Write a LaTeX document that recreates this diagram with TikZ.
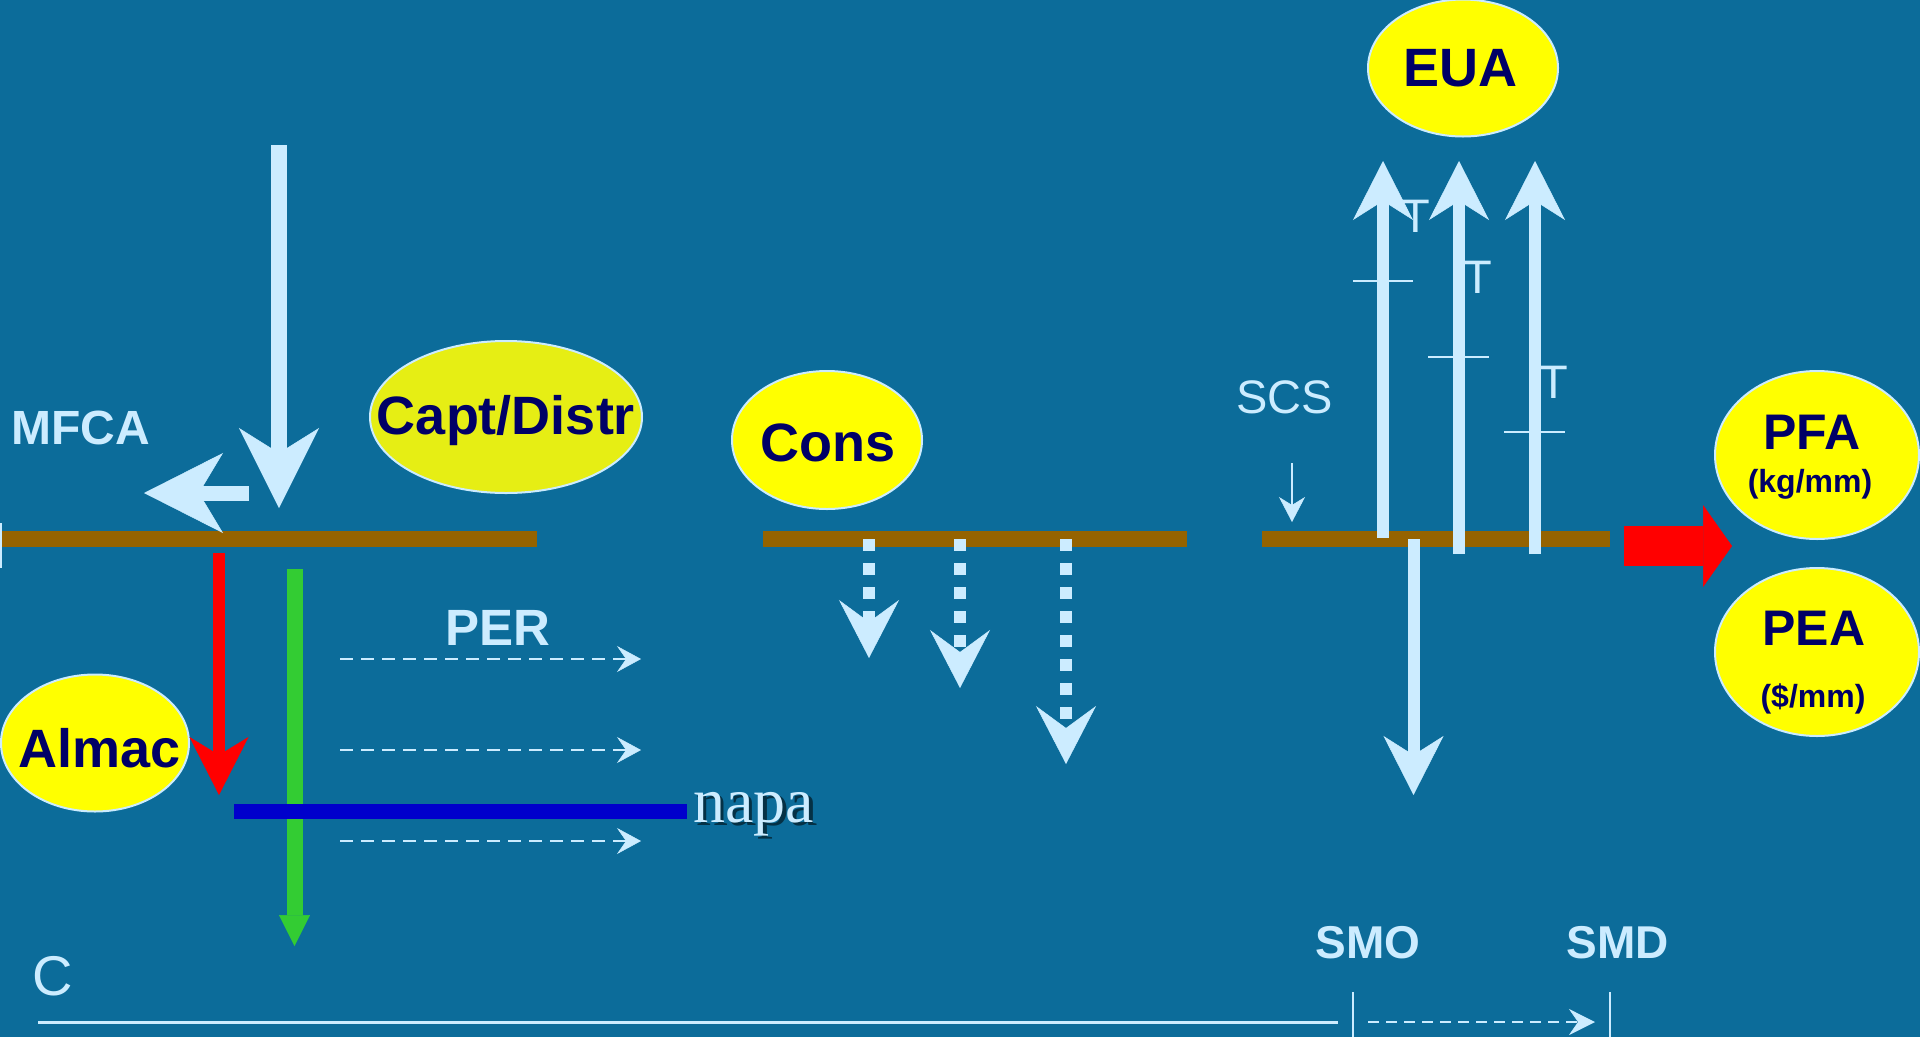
\documentclass[tikz,border=0pt]{standalone}
\usepackage{fontspec}
\setmainfont{Liberation Sans}
\newfontfamily\napafont{Liberation Serif}
\usetikzlibrary{arrows.meta,shapes.geometric}

\definecolor{bgblue}{RGB}{12,108,154}
\definecolor{pale}{RGB}{204,236,255}
\definecolor{soil}{RGB}{149,99,0}
\definecolor{navy}{RGB}{0,0,102}
\definecolor{lemon}{RGB}{255,255,0}
\definecolor{lime}{RGB}{230,238,20}
\definecolor{flowgreen}{RGB}{51,204,51}
\definecolor{aquifer}{RGB}{0,0,204}
\definecolor{hotred}{RGB}{255,0,0}
\colorlet{shade}{black!55!bgblue}

\newcommand\setfs[1]{\fontsize{#1}{#1}\selectfont}
% text with a dark drop shadow, set in one box
\newcommand\shadowed[1]{\rlap{\kern3.5pt\raisebox{-3.5pt}{\color{shade}#1}}#1}

\tikzset{
  bubble/.style={ellipse, draw=pale, line width=2pt, fill=lemon, inner sep=0pt},
  bubbletext/.style={text=navy, font=\bfseries\setfs{54}, inner sep=0pt, anchor=base},
  paletext/.style={text=pale, inner sep=0pt},
  soilbar/.style={draw=soil, line width=16pt},
  paleflow/.style={draw=pale, line width=12pt,
    -{Stealth[length=59pt, width=60pt, inset=19pt, line width=0.5pt]}},
  seepflow/.style={draw=pale, line width=12pt, dash pattern=on 12pt off 12pt,
    -{Stealth[length=58pt, width=60pt, inset=22pt, line width=0.5pt]}},
  thinflow/.style={draw=pale, line width=2.5pt, dash pattern=on 13pt off 8pt,
    -{Stealth[length=24pt, width=26pt, inset=9pt, line width=0.5pt]}},
  tick/.style={draw=pale, line width=2pt},
}

\begin{document}
\begin{tikzpicture}[x=1pt,y=-1pt]
\useasboundingbox (0,0) rectangle (1920,1037);
\fill[bgblue] (0,0) rectangle (1920,1037);

% ground surface segments
\coordinate (b1w) at (0,539);    \coordinate (b1e) at (537,539);
\coordinate (b2w) at (763,539);  \coordinate (b2e) at (1187,539);
\coordinate (b3w) at (1262,539); \coordinate (b3e) at (1610,539);
\draw[soilbar] (b1w) -- (b1e);
\draw[soilbar] (b2w) -- (b2e);
\draw[soilbar] (b3w) -- (b3e);
\coordinate (edgeT) at (1,523); \coordinate (edgeB) at (1,568);
\draw[tick] (edgeT) -- (edgeB);

% ellipses
\node[bubble, fill=lime, minimum width=272pt, minimum height=152pt] (capt) at (506,417) {};
\node[bubbletext] (captT) at (506,434) {Capt/Distr};
\node[bubble, minimum width=190pt, minimum height=138pt] (cons) at (827,440) {};
\node[bubbletext] (consT) at (828,461) {Cons};
\node[bubble, minimum width=188pt, minimum height=137pt] (almac) at (95,743) {};
\node[bubbletext] (almacT) at (100,767) {Almac};
\node[bubble, minimum width=190pt, minimum height=137pt] (eua) at (1463,68) {};
\node[bubbletext] (euaT) at (1460,86) {EUA};
\node[bubble, minimum width=204pt, minimum height=168pt] (pfa) at (1817,455) {};
\node[bubbletext, font=\bfseries\setfs{50}] (pfaT) at (1812,449) {PFA};
\node[bubbletext, font=\bfseries\setfs{32}] (pfaU) at (1810,492) {(kg/mm)};
\node[bubble, minimum width=204pt, minimum height=168pt] (pea) at (1817,652) {};
\node[bubbletext, font=\bfseries\setfs{50}] (peaT) at (1814,645) {PEA};
\node[bubbletext, font=\bfseries\setfs{32}] (peaU) at (1813,707) {(\$/mm)};

% inflow and diversion on the left
\coordinate (inTop) at (279,145); \coordinate (inTip) at (279,508);
\draw[draw=pale, line width=16.5pt,
  -{Stealth[length=80pt, width=80pt, inset=25pt, line width=0.5pt]}] (inTop) -- (inTip);
\coordinate (mfStart) at (249,493); \coordinate (mfTip) at (144,493);
\draw[draw=pale, line width=15pt,
  -{Stealth[length=79pt, width=80pt, inset=24pt, line width=0.5pt]}] (mfStart) -- (mfTip);
\node[paletext, anchor=base west, font=\bfseries\setfs{48}] (mfca) at (11,444) {MFCA};

% storage and percolation
\coordinate (redTop) at (219,553); \coordinate (redTip) at (219,795);
\draw[draw=hotred, line width=12pt,
  -{Stealth[length=58pt, width=59pt, inset=18pt, line width=0.5pt]}] (redTop) -- (redTip);
\coordinate (grTop) at (294.5,569); \coordinate (grTip) at (294.5,946);
\draw[draw=flowgreen, line width=16pt,
  -{Triangle[length=31pt, width=31pt, line width=0.5pt]}] (grTop) -- (grTip);
\coordinate (aqW) at (234,811); \coordinate (aqE) at (687,811);
\draw[draw=aquifer, line width=15pt] (aqW) -- (aqE);
\node[paletext, anchor=base west, font=\napafont\setfs{64}] (napa) at (693,822) {\shadowed{napa}};

\node[paletext, anchor=base, font=\bfseries\setfs{51}] (per) at (498,645) {PER};
\foreach \y [count=\i] in {659,750,841}{
  \coordinate (perS\i) at (340,\y); \coordinate (perE\i) at (641,\y);
  \draw[thinflow] (perS\i) -- (perE\i);
}

% consumptive losses
\coordinate (c1s) at (869,539);  \coordinate (c1e) at (869,658);
\coordinate (c2s) at (960,539);  \coordinate (c2e) at (960,688);
\coordinate (c3s) at (1066,539); \coordinate (c3e) at (1066,764);
\draw[seepflow] (c1s) -- (c1e);
\draw[seepflow] (c2s) -- (c2e);
\draw[seepflow] (c3s) -- (c3e);

% evapotranspiration towards EUA
\coordinate (u1s) at (1383,538); \coordinate (u1e) at (1383,161);
\coordinate (u2s) at (1459,554); \coordinate (u2e) at (1459,161);
\coordinate (u3s) at (1535,554); \coordinate (u3e) at (1535,161);
\draw[paleflow] (u1s) -- (u1e);
\draw[paleflow] (u2s) -- (u2e);
\draw[paleflow] (u3s) -- (u3e);
\coordinate (t1w) at (1353,281); \coordinate (t1e) at (1413,281);
\coordinate (t2w) at (1428,357); \coordinate (t2e) at (1489,357);
\coordinate (t3w) at (1504,432); \coordinate (t3e) at (1565,432);
\draw[tick] (t1w) -- (t1e);
\draw[tick] (t2w) -- (t2e);
\draw[tick] (t3w) -- (t3e);
\node[paletext, anchor=base west, font=\setfs{47}] (tA) at (1401,232) {T};
\node[paletext, anchor=base west, font=\setfs{47}] (tB) at (1463,293) {T};
\node[paletext, anchor=base west, font=\setfs{47}] (tC) at (1539,398) {T};

\coordinate (dnS) at (1413.5,539); \coordinate (dnE) at (1413.5,795);
\draw[paleflow] (dnS) -- (dnE);

\node[paletext, anchor=base west, font=\setfs{47}] (scs) at (1236,413) {SCS};
\coordinate (scsS) at (1292,463); \coordinate (scsE) at (1292,522);
\draw[draw=pale, line width=2pt,
  -{Stealth[length=25pt, width=26pt, inset=8pt, line width=0.5pt]}] (scsS) -- (scsE);

% output arrow
\coordinate (outS) at (1624,546); \coordinate (outE) at (1732,546);
\draw[draw=hotred, line width=40pt,
  -{Triangle[length=29pt, width=82pt, line width=0.5pt]}] (outS) -- (outE);

% bottom scale
\node[paletext, anchor=base west, font=\setfs{56}] (cLab) at (32,995) {C};
\node[paletext, anchor=base, font=\bfseries\setfs{46}] (smo) at (1368,958) {SMO};
\node[paletext, anchor=base, font=\bfseries\setfs{46}] (smd) at (1618,958) {SMD};
\coordinate (axW) at (38,1022); \coordinate (axE) at (1338,1022);
\draw[draw=pale, line width=3pt] (axW) -- (axE);
\coordinate (k1t) at (1353,992); \coordinate (k1b) at (1353,1037);
\coordinate (k2t) at (1610,992); \coordinate (k2b) at (1610,1037);
\draw[tick] (k1t) -- (k1b);
\draw[tick] (k2t) -- (k2b);
\coordinate (smS) at (1368,1022); \coordinate (smE) at (1595,1022);
\draw[draw=pale, line width=2.5pt, dash pattern=on 11pt off 7pt,
  -{Stealth[length=26pt, width=26pt, inset=9pt, line width=0.5pt]}] (smS) -- (smE);
\end{tikzpicture}
\end{document}
